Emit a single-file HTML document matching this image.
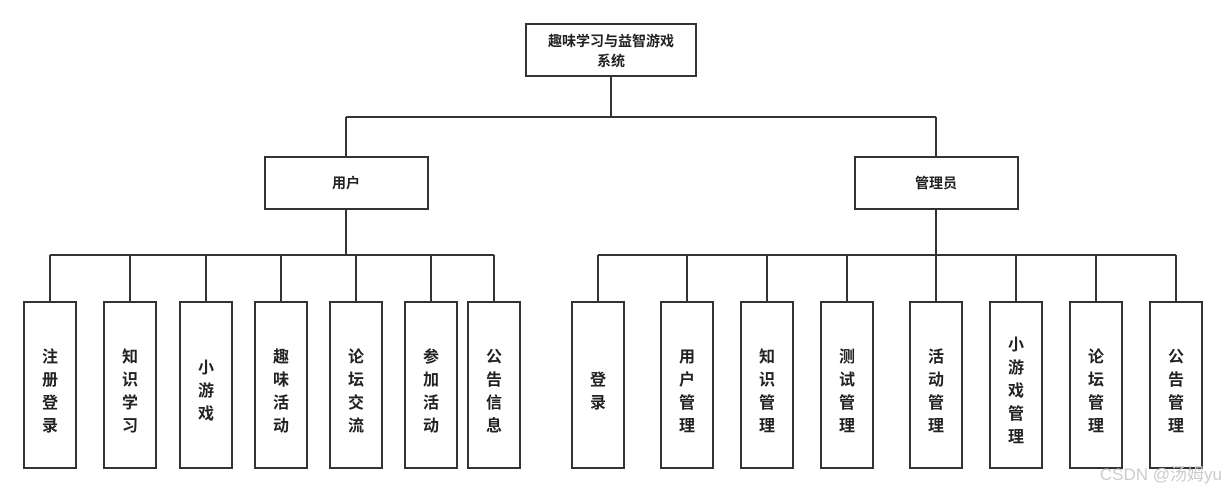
<!DOCTYPE html>
<html><head><meta charset="utf-8"><style>
html,body{margin:0;padding:0;background:#fff;}
svg text{font-family:"Liberation Sans","Noto Sans CJK SC",sans-serif;font-weight:bold;fill:#222;}
</style></head><body>
<svg width="1226" height="493" viewBox="0 0 1226 493" xmlns="http://www.w3.org/2000/svg">
<g stroke="#333" stroke-width="2" fill="none">
<line x1="611" y1="76" x2="611" y2="117"/>
<line x1="346" y1="117" x2="936" y2="117"/>
<line x1="346" y1="117" x2="346" y2="157"/>
<line x1="936" y1="117" x2="936" y2="157"/>
<line x1="346" y1="209" x2="346" y2="255"/>
<line x1="936" y1="209" x2="936" y2="255"/>
<line x1="50" y1="255" x2="494" y2="255"/>
<line x1="598" y1="255" x2="1176" y2="255"/>
<line x1="50" y1="255" x2="50" y2="302"/><line x1="130" y1="255" x2="130" y2="302"/><line x1="206" y1="255" x2="206" y2="302"/><line x1="281" y1="255" x2="281" y2="302"/><line x1="356" y1="255" x2="356" y2="302"/><line x1="431" y1="255" x2="431" y2="302"/><line x1="494" y1="255" x2="494" y2="302"/>
<line x1="598" y1="255" x2="598" y2="302"/><line x1="687" y1="255" x2="687" y2="302"/><line x1="767" y1="255" x2="767" y2="302"/><line x1="847" y1="255" x2="847" y2="302"/><line x1="936" y1="255" x2="936" y2="302"/><line x1="1016" y1="255" x2="1016" y2="302"/><line x1="1096" y1="255" x2="1096" y2="302"/><line x1="1176" y1="255" x2="1176" y2="302"/>
<rect x="526" y="24" width="170" height="52"/>
<rect x="265" y="157" width="163" height="52"/>
<rect x="855" y="157" width="163" height="52"/>
<rect x="24" y="302" width="52" height="166"/><rect x="104" y="302" width="52" height="166"/><rect x="180" y="302" width="52" height="166"/><rect x="255" y="302" width="52" height="166"/><rect x="330" y="302" width="52" height="166"/><rect x="405" y="302" width="52" height="166"/><rect x="468" y="302" width="52" height="166"/>
<rect x="572" y="302" width="52" height="166"/><rect x="661" y="302" width="52" height="166"/><rect x="741" y="302" width="52" height="166"/><rect x="821" y="302" width="52" height="166"/><rect x="910" y="302" width="52" height="166"/><rect x="990" y="302" width="52" height="166"/><rect x="1070" y="302" width="52" height="166"/><rect x="1150" y="302" width="52" height="166"/>
</g>
<g font-size="14" text-anchor="middle">
<text x="611" y="46">趣味学习与益智游戏</text>
<text x="611" y="66">系统</text>
<text x="346" y="188">用户</text>
<text x="936" y="188">管理员</text>
</g>
<g font-size="16" text-anchor="middle">
<text x="50" y="362">注</text><text x="50" y="385">册</text><text x="50" y="408">登</text><text x="50" y="431">录</text>
<text x="130" y="362">知</text><text x="130" y="385">识</text><text x="130" y="408">学</text><text x="130" y="431">习</text>
<text x="206" y="373">小</text><text x="206" y="396">游</text><text x="206" y="419">戏</text>
<text x="281" y="362">趣</text><text x="281" y="385">味</text><text x="281" y="408">活</text><text x="281" y="431">动</text>
<text x="356" y="362">论</text><text x="356" y="385">坛</text><text x="356" y="408">交</text><text x="356" y="431">流</text>
<text x="431" y="362">参</text><text x="431" y="385">加</text><text x="431" y="408">活</text><text x="431" y="431">动</text>
<text x="494" y="362">公</text><text x="494" y="385">告</text><text x="494" y="408">信</text><text x="494" y="431">息</text>
<text x="598" y="385">登</text><text x="598" y="408">录</text>
<text x="687" y="362">用</text><text x="687" y="385">户</text><text x="687" y="408">管</text><text x="687" y="431">理</text>
<text x="767" y="362">知</text><text x="767" y="385">识</text><text x="767" y="408">管</text><text x="767" y="431">理</text>
<text x="847" y="362">测</text><text x="847" y="385">试</text><text x="847" y="408">管</text><text x="847" y="431">理</text>
<text x="936" y="362">活</text><text x="936" y="385">动</text><text x="936" y="408">管</text><text x="936" y="431">理</text>
<text x="1016" y="350">小</text><text x="1016" y="373">游</text><text x="1016" y="396">戏</text><text x="1016" y="419">管</text><text x="1016" y="442">理</text>
<text x="1096" y="362">论</text><text x="1096" y="385">坛</text><text x="1096" y="408">管</text><text x="1096" y="431">理</text>
<text x="1176" y="362">公</text><text x="1176" y="385">告</text><text x="1176" y="408">管</text><text x="1176" y="431">理</text>
</g>
<text x="1222" y="480" font-size="17" text-anchor="end" style="font-weight:normal;fill:#ccc;">CSDN @汤姆yu</text>
</svg>
</body></html>
